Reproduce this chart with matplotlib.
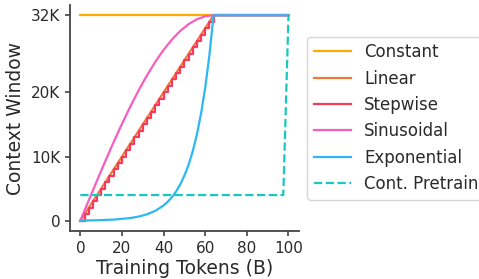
import matplotlib
matplotlib.use("Agg")
import matplotlib.pyplot as plt

# context-window schedules over training (tokens in B, window in tokens)
const_x = [0, 100]
const_y = [32000, 32000]

linear_x = [0, 64, 100]
linear_y = [0, 32000, 32000]

step_x = [0, 2, 4, 6, 8, 10, 12, 14, 16, 18, 20, 22, 24, 26, 28, 30, 32,
          34, 36, 38, 40, 42, 44, 46, 48, 50, 52, 54, 56, 58, 60, 62, 64, 100]
step_y = [0, 1000, 2000, 3000, 4000, 5000, 6000, 7000, 8000, 9000, 10000,
          11000, 12000, 13000, 14000, 15000, 16000, 17000, 18000, 19000,
          20000, 21000, 22000, 23000, 24000, 25000, 26000, 27000, 28000,
          29000, 30000, 31000, 32000, 32000]

sin_x = [0, 4, 8, 12, 16, 20, 24, 28, 32, 36, 40, 44, 48, 52, 56, 60, 64, 100]
sin_y = [0, 3140, 6240, 9290, 12250, 15090, 17780, 20300, 22630, 24740,
         26610, 28220, 29570, 30620, 31390, 31850, 32000, 32000]

exp_x = [0, 8, 16, 24, 28, 32, 36, 40, 42, 44, 46, 48, 50, 52, 54, 56, 58,
         60, 62, 64, 100]
exp_y = [31, 74, 177, 420, 650, 1000, 1540, 2380, 2960, 3670, 4550, 5660,
         7030, 8720, 10830, 13450, 16710, 20750, 25770, 32000, 32000]

cont_x = [0, 97.5, 100]
cont_y = [4000, 4000, 32000]

yticks = [0, 10000, 20000, 32000]
ytick_labels = ["0", "10K", "20K", "32K"]

text_c = "#2a2a2a"
spine_c = "#444444"

fig = plt.figure(figsize=(4.79, 2.79), dpi=100)
ax = fig.add_axes([0.146, 0.172, 0.478, 0.810])

lw = 1.6
ax.plot(const_x, const_y, color="#FFAA00", lw=lw, label="Constant")
ax.plot(linear_x, linear_y, color="#F07838", lw=lw, label="Linear")
ax.plot(step_x, step_y, color="#F53A5C", lw=lw, drawstyle="steps-post",
        label="Stepwise")
ax.plot(sin_x, sin_y, color="#F75DBF", lw=lw, label="Sinusoidal")
ax.plot(exp_x, exp_y, color="#2DB7F5", lw=lw, label="Exponential")
ax.plot(cont_x, cont_y, color="#16C8BE", lw=lw, ls="--", label="Cont. Pretrain")

ax.set_xlim(-5, 105)
ax.set_ylim(-1600, 33600)
ax.set_xticks([0, 20, 40, 60, 80, 100])
ax.set_yticks(yticks)
ax.set_yticklabels(ytick_labels)

ax.set_xlabel("Training Tokens (B)", fontsize=13.5, color=text_c, labelpad=2)
ax.set_ylabel("Context Window", fontsize=13.5, color=text_c, labelpad=4)
ax.tick_params(labelsize=11, colors=spine_c, labelcolor=text_c, width=1.2)

for side in ["top", "right"]:
    ax.spines[side].set_visible(False)
for side in ["left", "bottom"]:
    ax.spines[side].set_color(spine_c)
    ax.spines[side].set_linewidth(1.3)

leg = ax.legend(loc="center left", bbox_to_anchor=(1.0, 0.5), fontsize=12,
                handlelength=2.2)
for t in leg.get_texts():
    t.set_color(text_c)

fig.savefig("out.png", dpi=100)
